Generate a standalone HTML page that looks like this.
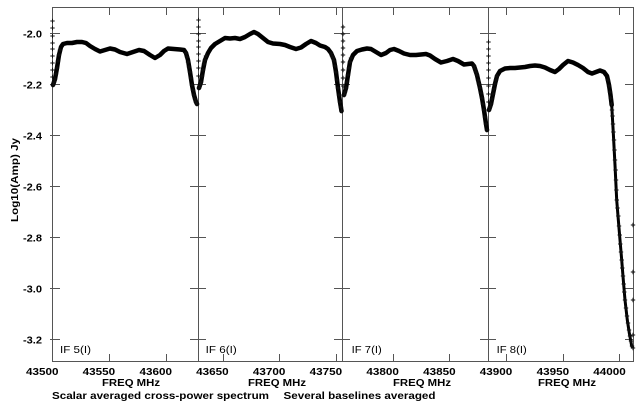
<!DOCTYPE html>
<html><head><meta charset="utf-8"><style>
html,body{margin:0;padding:0;background:#fff;}
svg{display:block;}
text{font-family:"Liberation Sans",Arial,sans-serif;fill:#000;}
.b{font-weight:bold;font-size:10.5px;}
.n{font-size:10.5px;}
</style></head><body>
<svg width="639" height="405" viewBox="0 0 639 405" xmlns="http://www.w3.org/2000/svg">
<defs>
<marker id="p" markerWidth="6" markerHeight="6" refX="3" refY="3" markerUnits="userSpaceOnUse" overflow="visible">
<path d="M0.8,3H5.2M3,0.8V5.2" stroke="#111" stroke-width="1" fill="none"/>
</marker>
</defs>
<g stroke="#555" stroke-width="1" fill="none" shape-rendering="crispEdges">
<path d="M52.5,7.5H633.5V361.5H52.5Z"/>
<path d="M198.5,7.5V361.5M342.5,7.5V361.5M488.5,7.5V361.5"/>
<path d="M109.5,7.5V15M166.5,7.5V15M223.5,7.5V15M279.5,7.5V15M336.5,7.5V15M393.5,7.5V15M449.5,7.5V15M506.5,7.5V15M563.5,7.5V15M619.5,7.5V15"/>
<path d="M109.5,354V361.5M166.5,354V361.5M223.5,354V361.5M279.5,354V361.5M336.5,354V361.5M393.5,354V361.5M449.5,354V361.5M506.5,354V361.5M563.5,354V361.5M619.5,354V361.5"/>
<path d="M50,33.5H60M50,84.5H60M50,135.5H60M50,186.5H60M50,237.5H60M50,288.5H60M50,339.5H60"/>
<path d="M190,33.5H206M190,84.5H206M190,135.5H206M190,186.5H206M190,237.5H206M190,288.5H206M190,339.5H206"/>
<path d="M334,33.5H350M334,84.5H350M334,135.5H350M334,186.5H350M334,237.5H350M334,288.5H350M334,339.5H350"/>
<path d="M480,33.5H496M480,84.5H496M480,135.5H496M480,186.5H496M480,237.5H496M480,288.5H496M480,339.5H496"/>
<path d="M625,33.5H633.5M625,84.5H633.5M625,135.5H633.5M625,186.5H633.5M625,237.5H633.5M625,288.5H633.5M625,339.5H633.5"/>
</g>

<g fill="none" stroke="#000" stroke-width="4.5" stroke-linejoin="round" stroke-linecap="round">
<polyline points="53,85 55,79 57,68 59,55 61,47 63,44 67,43 72,43 77,42 82,42 86,43 90,46 95,49 100,51.5 105,50 110,48.5 115,49.5 120,52 127,54 133,52 139,50 144,51 150,55 155,58 160,55 164,51 168,48.5 174,49 180,49.5 184,50 186,53 188,60 190,72 192,85 194,95 196,102 197,104"/>
<polyline points="199,88 201,82 203,70 205,60 208,53 211,48 215,44 220,41 225,38 230,38.5 235,38 240,39 245,37 250,34 254,32 258,34 263,38 268,42 273,43.5 280,44 285,45 290,47 296,49 301,47.5 306,44 311,41 316,43 320,45.5 325,47 328,49 331,53 334,60 336,72 338,88 340,102 341.5,111"/>
<polyline points="344,95 346,88 348,75 350,62 353,55 357,51 362,49.5 367,48.5 371,49 376,52 381,55 386,53 390,50 394,49 399,51 404,53.5 410,55 416,55 421,54.5 426,54 430,55.5 435,59 441,62.5 447,61 453,59 458,61 464,64.5 468,64 472,63.5 474,66 477,75 480,88 482,98 484,110 486,124 487,130"/>
<polyline points="489,110 491,104 493,94 495,84 497,76 500,71 505,68.5 510,68 515,68 520,67.5 525,67 530,66 535,65.5 540,66 545,67.5 550,70 555,72 559,69 563,65 568,61 573,62.5 578,65 583,68 588,72 592,73.5 596,72 600,70.5 604,72 607,76 609,85 610.5,95 611.7,105"/>
</g>
<polyline fill="none" stroke="#000" stroke-width="3" stroke-linejoin="round" points="611.7,105 613.3,133 615,165 616.7,200 618.5,222 620,240 621.7,260 623.3,280 625,300 627.3,320 629.3,333 631.7,346 633,348"/>

<g fill="none" stroke="transparent" stroke-width="0.1" marker-start="url(#p)" marker-mid="url(#p)" marker-end="url(#p)">
<polyline points="608,80 609,86 610,92 610.7,98 611.5,104 612,110 612.5,116 613,124 613.4,132 614,140 614.5,150 615,160 615.6,170 616,180 616.4,190 616.8,200 617.5,208 618.3,216 619,226 619.7,235 620.3,244 621,252 621.7,260 622.3,268 623,276 623.7,284 624.3,292 625,300 626,308 627,316 628,323 629,330 630,336 631,341 632,346 633,348"/>
<polyline points="186,53 187,57 188,62 189,67 190,72 191,78 192,85 193,90 194,95 195,99 196,102 197,104"/>
<polyline points="53,85 54,82 55,79 56,74 57,68 58,61 59,55 60,50"/>
<polyline points="199,88 200,85 201,82 202,76 203,70 204,64 205,60 206,56"/>
<polyline points="331,53 332,56 333,58 334,61 335,66 336,72 337,80 338,88 339,95 340,102 341,107 341.5,111"/>
<polyline points="344,95 345,92 346,88 347,82 348,75 349,68 350,62 351,58"/>
<polyline points="474,66 475,69 476,72 477,75 478,80 479,84 480,88 481,93 482,98 483,104 484,110 485,117 486,124 487,130"/>
<polyline points="489,110 490,107 491,104 492,99 493,94 494,89 495,84 496,80 497,76"/>
<polyline points="52.5,21 52.5,28 52.5,36 52.5,43 52.5,49 52.5,56 52.5,63 52.5,70 52.5,77"/>
<polyline points="198.5,20 198.5,27 198.5,34 198.5,41 198.5,47 198.5,54 198.5,61 198.5,68 198.5,76"/>
<polyline points="343,27 343,34 343,41 343,48 343,55 343,62 343,70 343,78 343,86"/>
<polyline points="488.5,42 488.5,49 488.5,56 488.5,63 488.5,70 488.5,78 488.5,86 488.5,94 488.5,102"/>
<polyline points="633,225 633,272 633,300 633,335"/>
</g>

<g class="b" text-anchor="end">
<text x="42" y="37.5" textLength="19" lengthAdjust="spacingAndGlyphs">-2.0</text>
<text x="42" y="88.5" textLength="19" lengthAdjust="spacingAndGlyphs">-2.2</text>
<text x="42" y="139.5" textLength="19" lengthAdjust="spacingAndGlyphs">-2.4</text>
<text x="42" y="190.5" textLength="19" lengthAdjust="spacingAndGlyphs">-2.6</text>
<text x="42" y="241.5" textLength="19" lengthAdjust="spacingAndGlyphs">-2.8</text>
<text x="42" y="292.5" textLength="19" lengthAdjust="spacingAndGlyphs">-3.0</text>
<text x="42" y="343.5" textLength="19" lengthAdjust="spacingAndGlyphs">-3.2</text>
</g>
<text class="b" transform="translate(18,180) rotate(-90)" text-anchor="middle" textLength="84" lengthAdjust="spacingAndGlyphs">Log10(Amp) Jy</text>

<g class="b">
<text x="26" y="375" textLength="32.5" lengthAdjust="spacingAndGlyphs">43500</text>
<text x="82.7" y="375" textLength="32.5" lengthAdjust="spacingAndGlyphs">43550</text>
<text x="139.5" y="375" textLength="32.5" lengthAdjust="spacingAndGlyphs">43600</text>
<text x="196.2" y="375" textLength="32.5" lengthAdjust="spacingAndGlyphs">43650</text>
<text x="252.9" y="375" textLength="32.5" lengthAdjust="spacingAndGlyphs">43700</text>
<text x="309.7" y="375" textLength="32.5" lengthAdjust="spacingAndGlyphs">43750</text>
<text x="366.4" y="375" textLength="32.5" lengthAdjust="spacingAndGlyphs">43800</text>
<text x="423.1" y="375" textLength="32.5" lengthAdjust="spacingAndGlyphs">43850</text>
<text x="479.8" y="375" textLength="32.5" lengthAdjust="spacingAndGlyphs">43900</text>
<text x="536.6" y="375" textLength="32.5" lengthAdjust="spacingAndGlyphs">43950</text>
<text x="593.3" y="375" textLength="32.5" lengthAdjust="spacingAndGlyphs">44000</text>
</g>
<g class="b" text-anchor="middle">
<text x="131" y="386" textLength="58" lengthAdjust="spacingAndGlyphs">FREQ MHz</text>
<text x="277" y="386" textLength="58" lengthAdjust="spacingAndGlyphs">FREQ MHz</text>
<text x="422" y="386" textLength="58" lengthAdjust="spacingAndGlyphs">FREQ MHz</text>
<text x="567" y="386" textLength="58" lengthAdjust="spacingAndGlyphs">FREQ MHz</text>
</g>
<text class="b" x="52" y="399" textLength="217" lengthAdjust="spacingAndGlyphs">Scalar averaged cross-power spectrum</text>
<text class="b" x="283.5" y="399" textLength="152" lengthAdjust="spacingAndGlyphs">Several baselines averaged</text>

<g class="n">
<text x="60" y="353" textLength="31" lengthAdjust="spacingAndGlyphs">IF 5(I)</text>
<text x="205.7" y="353" textLength="31" lengthAdjust="spacingAndGlyphs">IF 6(I)</text>
<text x="351.7" y="353" textLength="30" lengthAdjust="spacingAndGlyphs">IF 7(I)</text>
<text x="496.7" y="353" textLength="30" lengthAdjust="spacingAndGlyphs">IF 8(I)</text>
</g>
</svg>
</body></html>
